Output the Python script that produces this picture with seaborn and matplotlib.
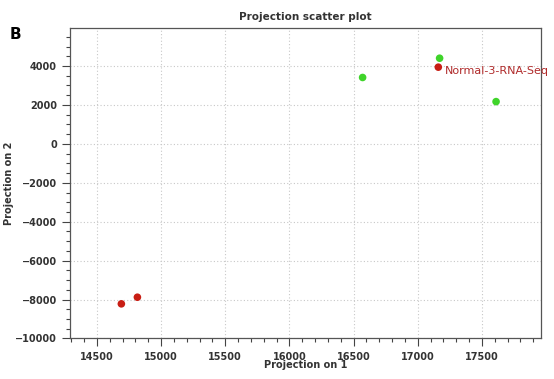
import matplotlib
matplotlib.use("Agg")
import matplotlib.pyplot as plt
import seaborn as sns
import pandas as pd
from matplotlib.ticker import MultipleLocator

proj1 = [17170, 17160, 16570, 17610, 14690, 14815]
proj2 = [4400, 3940, 3410, 2170, -8220, -7880]
group = ["green", "red", "green", "green", "red", "red"]
labels = ["", "Normal-3-RNA-Seq", "", "", "", ""]

df = pd.DataFrame({"p1": proj1, "p2": proj2, "g": group, "lab": labels})

sns.set_theme(style="white")
plt.rcParams['font.family'] = ['DejaVu Sans']

fig = plt.figure(figsize=(5.54, 3.79), dpi=100)
ax = fig.add_axes([0.1264, 0.1069, 0.8501, 0.8191])

sns.scatterplot(data=df, x="p1", y="p2", hue="g",
                palette={"green": "#3fd42a", "red": "#c81e14"},
                s=30, edgecolor="none", legend=False, ax=ax, zorder=3)

for _, r in df.iterrows():
    if r["lab"]:
        ax.annotate(r["lab"], (r["p1"], r["p2"]), xytext=(4.5, -2.5),
                    textcoords="offset points", fontsize=8,
                    color="#b02a2a", va="center", annotation_clip=False)

ax.set_xlim(14290, 17960)
ax.set_ylim(-10000, 5950)
ax.xaxis.set_major_locator(MultipleLocator(500))
ax.xaxis.set_minor_locator(MultipleLocator(100))
ax.yaxis.set_major_locator(MultipleLocator(2000))
ax.yaxis.set_minor_locator(MultipleLocator(500))
ax.tick_params(axis="both", which="major", direction="out", length=6,
               width=0.8, color="#444444", labelsize=7, bottom=True, left=True)
ax.tick_params(axis="both", which="minor", direction="out", length=3,
               width=0.8, color="#444444", bottom=True, left=True)
for lab in ax.get_xticklabels() + ax.get_yticklabels():
    lab.set_fontweight("bold")
    lab.set_color("#333333")

ax.grid(True, which="major", linestyle=(0, (1, 2)), color="#c8c8c8", linewidth=0.8)
for sp in ax.spines.values():
    sp.set_color("#555555")
    sp.set_linewidth(0.9)

ax.set_xlabel("Projection on 1", fontsize=7, fontweight="bold", color="#333333", labelpad=-1)
ax.set_ylabel("Projection on 2", fontsize=7, fontweight="bold", color="#333333", labelpad=1)
ax.set_title("Projection scatter plot", fontsize=7.5, fontweight="bold", color="#333333", pad=6)

fig.text(0.018, 0.93, "B", fontsize=11, fontweight="bold", color="black", va="top")

fig.savefig("out.png", dpi=100)
